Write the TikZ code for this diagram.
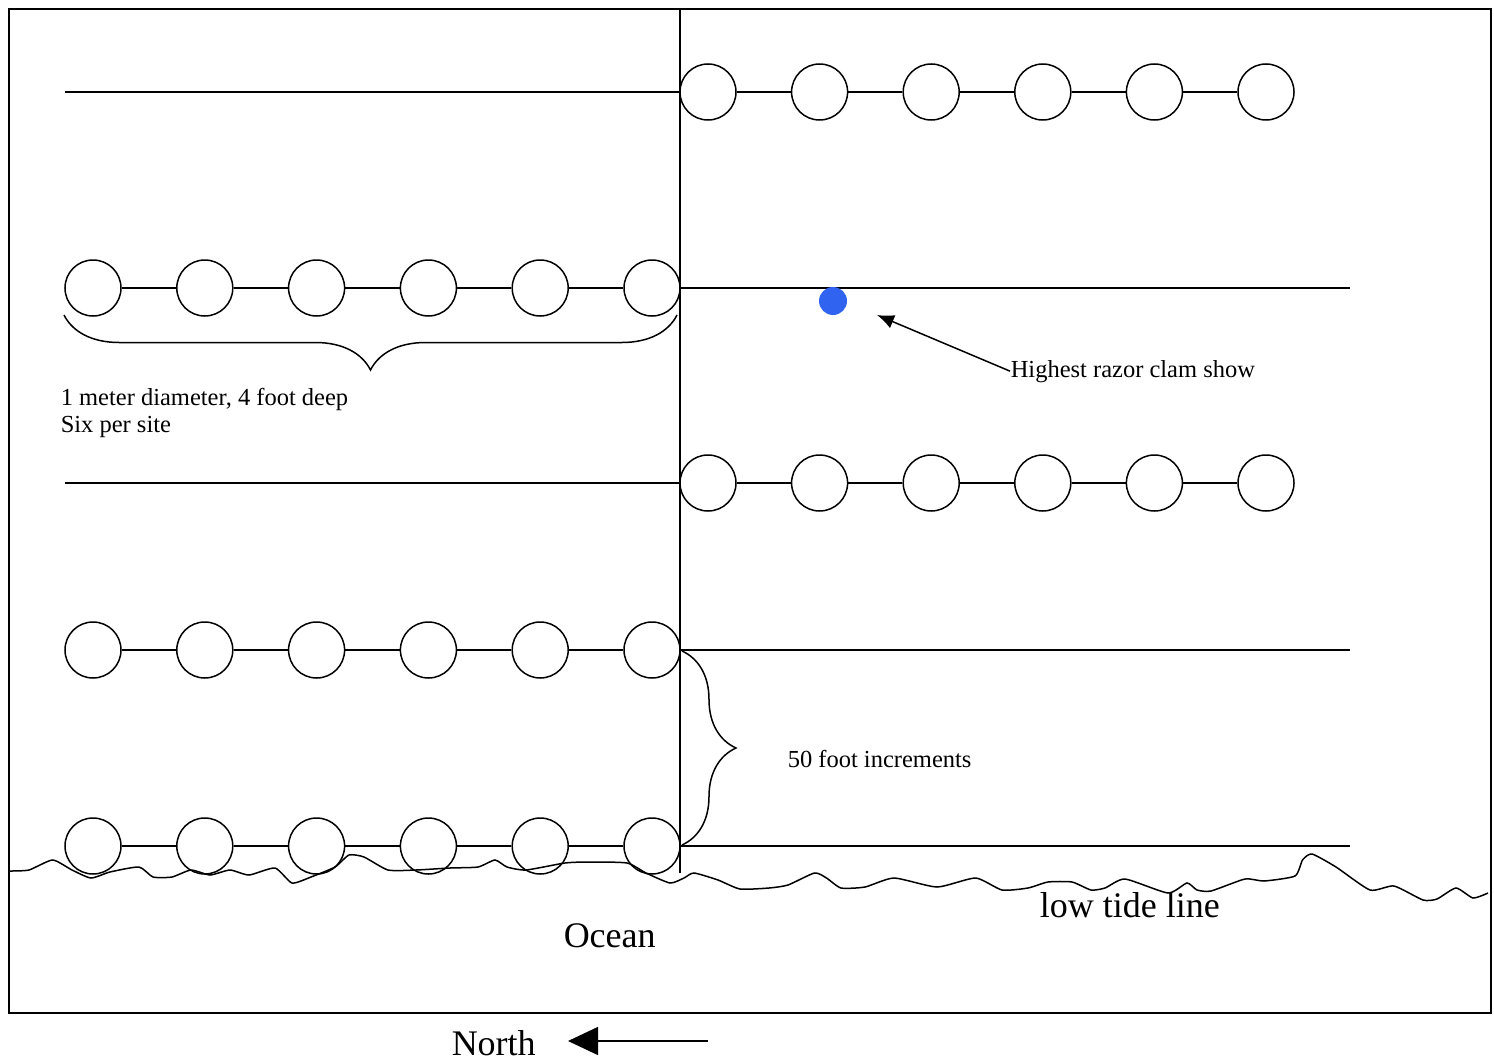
\documentclass[tikz,border=0pt]{standalone}
\usepackage{fontspec}
\setmainfont{Liberation Serif}
\usetikzlibrary{arrows.meta,decorations.pathreplacing}
\definecolor{clamblue}{RGB}{48,100,240}
\begin{document}
\begin{tikzpicture}[x=1pt,y=-1pt,line width=1.5pt,
  hole/.style={circle,draw,minimum size=56pt,inner sep=0pt,line width=1.5pt},
  smalltxt/.style={inner sep=0pt,font=\fontsize{24.5}{28}\selectfont},
  bigtxt/.style={inner sep=0pt,font=\fontsize{36}{40}\selectfont},
  bracestyle/.style={decorate,line width=1.5pt}]
\useasboundingbox (0,0) rectangle (1494,1062);
% frame
\draw[line width=1.6pt] (9,9) rectangle (1491,1013);
% vertical baseline
\coordinate (vtop) at (680,9);
\coordinate (vbot) at (680,873);
\draw (vtop) -- (vbot);
% right-hand rows of holes
\foreach \r/\y in {a/92,c/483}{
  \foreach \i in {1,...,6}{
    \node[hole] (\r\i) at ({708+111.6*(\i-1)},\y) {};
  }
  \foreach \i [evaluate=\i as \j using int(\i+1)] in {1,...,5}{
    \draw (\r\i) -- (\r\j);
  }
}
% left-hand rows of holes
\foreach \r/\y in {b/288,d/650,e/846}{
  \foreach \i in {1,...,6}{
    \node[hole] (\r\i) at ({93+111.8*(\i-1)},\y) {};
  }
  \foreach \i [evaluate=\i as \j using int(\i+1)] in {1,...,5}{
    \draw (\r\i) -- (\r\j);
  }
}
% transect lines without holes
\coordinate (aL) at (65,92);   \draw (aL) -- (a1);
\coordinate (cL) at (65,483);  \draw (cL) -- (c1);
\coordinate (bR) at (1350,288); \draw (b6) -- (bR);
\coordinate (dR) at (1350,650); \draw (d6) -- (dR);
\coordinate (eR) at (1350,846); \draw (e6) -- (eR);
% brace under row b
\coordinate (brA) at (677,315);
\coordinate (brB) at (64,315);
\draw[bracestyle,decoration={brace,amplitude=55pt}] (brA) -- (brB);
\node[smalltxt,anchor=base west] (t1) at (60,405) {1 meter diameter, 4 foot deep};
\node[smalltxt,anchor=base west] (t2) at (60,432) {Six per site};
% brace between rows d and e
\coordinate (bvA) at (682,651);
\coordinate (bvB) at (682,845);
\draw[bracestyle,decoration={brace,amplitude=54pt}] (bvA) -- (bvB);
\node[smalltxt,anchor=base west] (t3) at (787,767) {50 foot increments};
% razor clam
\node[circle,fill=clamblue,minimum size=28pt,inner sep=0pt] (clam) at (833,301) {};
\node[smalltxt,anchor=base west] (t4) at (1010,377) {Highest razor clam show};
\coordinate (clamtip) at (877,315);
\draw[-{Latex[length=17pt,width=14pt]}] (t4.west) -- (clamtip);
% low tide line
\draw[line width=1.5pt] plot[smooth,tension=0.35] coordinates {
 (10,871) (29,870) (52.6,860) (72,870) (91,878) (110,872) (139,867) (153,877)
 (172,877) (191,870) (210,875) (230,870) (249,875) (275,868) (292,883) (311,877)
 (335,867) (349,855) (364,857) (388,870) (416,870) (450,868) (478,867) (495,860)
 (507,867) (526,870) (565,863) (589,862) (627,863) (646,873) (670,883) (684,878)
 (694,873) (718,880) (740,889) (769,888) (788,885) (814.5,873) (826.5,878)
 (841,888) (865,887) (894,878) (937,887) (975.6,878) (1002,890) (1028,888)
 (1048,882) (1072,882) (1091,890) (1105,888) (1125,879) (1168,893) (1187,883)
 (1197,890) (1211,891) (1245,879) (1264,881) (1295,876) (1302.5,860) (1312,854)
 (1336,867) (1370,890) (1394,886) (1423,900) (1437,899) (1456,888) (1473,898)
 (1488,893)};
\node[bigtxt,anchor=base west] (tide) at (1039,917) {low tide line};
\node[bigtxt,anchor=base west] (ocean) at (563,947) {Ocean};
% north arrow
\node[bigtxt,anchor=base west] (north) at (451,1055) {North};
\coordinate (nTail) at (708,1041);
\coordinate (nTip) at (568,1041);
\draw[-{Triangle[length=30pt,width=28pt]}] (nTail) -- (nTip);
\end{tikzpicture}
\end{document}
